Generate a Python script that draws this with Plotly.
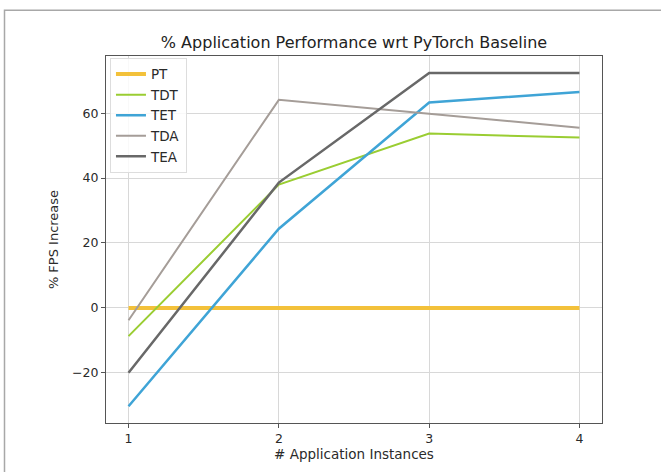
import plotly.graph_objects as go

instances = [1, 2, 3, 4]
series_names = ["PT", "TDT", "TET", "TDA", "TEA"]
pt = [0, 0, 0, 0]
tdt = [-8.7, 38.0, 53.7, 52.5]
tet = [-30.3, 24.4, 63.3, 66.5]
tda = [-3.8, 64.1, 59.8, 55.5]
tea = [-20.0, 38.6, 72.4, 72.4]
colors = ["#f3c13a", "#9acd32", "#3fa4d6", "#a59d98", "#686868"]
widths = [4, 2, 2.5, 2, 2.5]

fig = go.Figure()
for name, vals, c, w in zip(series_names, [pt, tdt, tet, tda, tea], colors, widths):
    fig.add_trace(go.Scatter(x=instances, y=vals, name=name, mode="lines",
                             line=dict(color=c, width=w)))

L, R, T, B = 106, 59, 56, 43
W, H = 661, 472
pw, ph = W - L - R, H - T - B

def px(x):
    return (x - L) / pw

def py(y):
    return (H - B - y) / ph

fig.add_shape(type="rect", xref="paper", yref="paper",
              x0=px(4.5), x1=px(668), y0=py(480), y1=py(9.5),
              line=dict(color="#a8a8a8", width=1.5), fillcolor="rgba(0,0,0,0)", layer="below")

fig.update_layout(
    width=W, height=H,
    margin=dict(l=L, r=R, t=T, b=B),
    paper_bgcolor="white", plot_bgcolor="white",
    font=dict(family="DejaVu Sans", color="#2a2a2a", size=12),
    title=dict(text="% Application Performance wrt PyTorch Baseline",
               x=(L + pw / 2) / W, xanchor="center", y=1 - 42 / H, yanchor="middle",
               font=dict(size=16, color="#222222")),
    showlegend=True,
    legend=dict(x=0.008, y=0.995, xanchor="left", yanchor="top",
                bgcolor="rgba(255,255,255,0.85)", bordercolor="#dddddd", borderwidth=1,
                font=dict(size=13.5, color="#2a2a2a"), tracegroupgap=0),
    xaxis=dict(range=[0.85, 4.15], tickvals=instances, ticktext=[str(i) for i in instances],
               showgrid=True, gridcolor="#d8d8d8", gridwidth=1,
               showline=True, linecolor="#555555", linewidth=1.2, mirror=True,
               ticks="outside", ticklen=4, tickcolor="#555555", zeroline=False,
               title=dict(text="# Application Instances", standoff=4, font=dict(size=13.5)),
               tickfont=dict(size=12.5)),
    yaxis=dict(range=[-35.45, 77.6], tickvals=[-20, 0, 20, 40, 60],
               showgrid=True, gridcolor="#d8d8d8", gridwidth=1,
               showline=True, linecolor="#555555", linewidth=1.2, mirror=True,
               ticks="outside", ticklen=4, tickcolor="#555555", zeroline=False,
               title=dict(text="% FPS Increase", standoff=10, font=dict(size=13)),
               tickfont=dict(size=12.5)),
)

fig.write_html("out.html")
